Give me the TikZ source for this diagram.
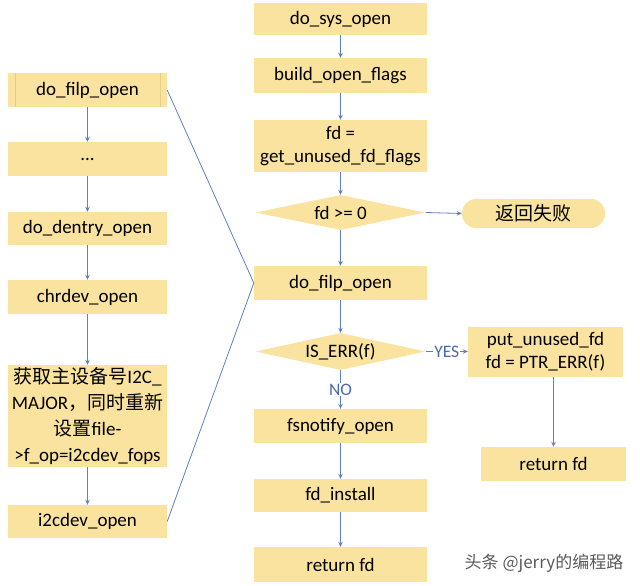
\documentclass[tikz,border=0pt]{standalone}
\usepackage{fontspec}
\setmainfont{Carlito}
\newfontfamily\cjk{Noto Sans CJK SC}
\usetikzlibrary{shapes.geometric,arrows.meta}
\definecolor{boxfill}{HTML}{FAE29F}
\definecolor{procline}{HTML}{E6CD8A}
\definecolor{conn}{HTML}{5E80BE}
\definecolor{lbl}{HTML}{4A6AA8}
\definecolor{wm}{HTML}{5A5A5A}
\tikzset{
  x=1pt, y=-1pt,
  boxnode/.style={fill=boxfill, draw=none, inner sep=0pt, align=center,
    font=\fontsize{19}{23}\selectfont, text=black},
  decnode/.style={boxnode, diamond, shape aspect=4.6},
  termnode/.style={boxnode, rounded corners=14pt},
  arr/.style={draw=conn, line width=0.8pt, -{Stealth[length=5pt,width=4.5pt]}},
  brk/.style={draw=conn, line width=0.8pt},
  lab/.style={fill=white, inner sep=1pt, text=lbl, font=\fontsize{17.5}{20}\selectfont}
}
\begin{document}
\begin{tikzpicture}
\useasboundingbox (0,0) rectangle (640,586);
% left column
\node[boxnode, minimum width=159pt, minimum height=34pt] (lf1) at (87.5,90) {do\_filp\_open};
\draw[procline, line width=0.8pt] (15,73) -- (15,107) (160.5,73) -- (160.5,107);
\node[boxnode, minimum width=159pt, minimum height=34pt] (lf2) at (87.5,159) {...};
\node[boxnode, minimum width=159pt, minimum height=33pt] (lf3) at (87.5,228.5) {do\_dentry\_open};
\node[boxnode, minimum width=159pt, minimum height=34pt] (lf4) at (87.5,297) {chrdev\_open};
\node[boxnode, minimum width=159pt, minimum height=102pt, font=\fontsize{19}{26}\selectfont] (lf5) at (87.5,416)
  {{\cjk 获取主设备号}I2C\_\\MAJOR{\cjk ，同时重新}\\{\cjk 设置}file-\\>f\_op=i2cdev\_fops};
\node[boxnode, minimum width=159pt, minimum height=33pt] (lf6) at (87.5,521.5) {i2cdev\_open};
\draw[arr] (lf1) -- (lf2);
\draw[arr] (lf2) -- (lf3);
\draw[arr] (lf3) -- (lf4);
\draw[arr] (lf4) -- (lf5);
\draw[arr] (lf5) -- (lf6);
% middle column
\node[boxnode, minimum width=173pt, minimum height=32pt] (m1) at (340.5,19) {do\_sys\_open};
\node[boxnode, minimum width=173pt, minimum height=35pt] (m2) at (340.5,75.5) {build\_open\_flags};
\node[boxnode, minimum width=173pt, minimum height=52pt, font=\fontsize{19}{23}\selectfont] (m3) at (340.5,146) {fd =\\get\_unused\_fd\_flags};
\node[decnode, minimum width=170pt, minimum height=35pt] (d1) at (340.5,212.5) {fd >= 0};
\node[boxnode, minimum width=173pt, minimum height=34pt] (m4) at (340.5,283) {do\_filp\_open};
\node[decnode, minimum width=170pt, minimum height=37pt] (d2) at (340.5,351.5) {IS\_ERR(f)};
\node[boxnode, minimum width=173pt, minimum height=34pt] (m5) at (340.5,426) {fsnotify\_open};
\node[boxnode, minimum width=173pt, minimum height=33pt] (m6) at (340.5,495.5) {fd\_install};
\node[boxnode, minimum width=173pt, minimum height=35pt] (m7) at (340.5,564.5) {return fd};
% right column
\node[termnode, minimum width=143pt, minimum height=29pt] (fail) at (533.5,213.5) {\cjk 返回失败};
\node[boxnode, minimum width=155pt, minimum height=50pt, font=\fontsize{19}{23}\selectfont] (r1) at (545.5,352) {put\_unused\_fd\\fd = PTR\_ERR(f)};
\node[boxnode, minimum width=145pt, minimum height=34pt] (r2) at (553.5,464) {return fd};
% connectors
\draw[arr] (m1) -- (m2);
\draw[arr] (m2) -- (m3);
\draw[arr] (m3) -- (d1);
\draw[arr] (d1) -- (m4);
\draw[arr] (d1.east) -- (fail.west);
\draw[arr] (m4) -- (d2);
\draw[arr] (d2.east) -- node[lab] {YES} (d2.east -| r1.west);
\draw[arr] (d2.south) -- node[lab] {NO} (m5.north);
\draw[arr] (m5) -- (m6);
\draw[arr] (m6) -- (m7);
\draw[arr] (r2.north |- r1.south) -- (r2.north);
% expansion bracket
\draw[brk] (lf1.east) -- (m4.west) -- (lf6.east);
% watermark
\node[text=wm, font=\cjk\fontsize{17}{20}\selectfont, inner sep=0pt] (wmark) at (544,563) {头条 @jerry的编程路};
\end{tikzpicture}
\end{document}
